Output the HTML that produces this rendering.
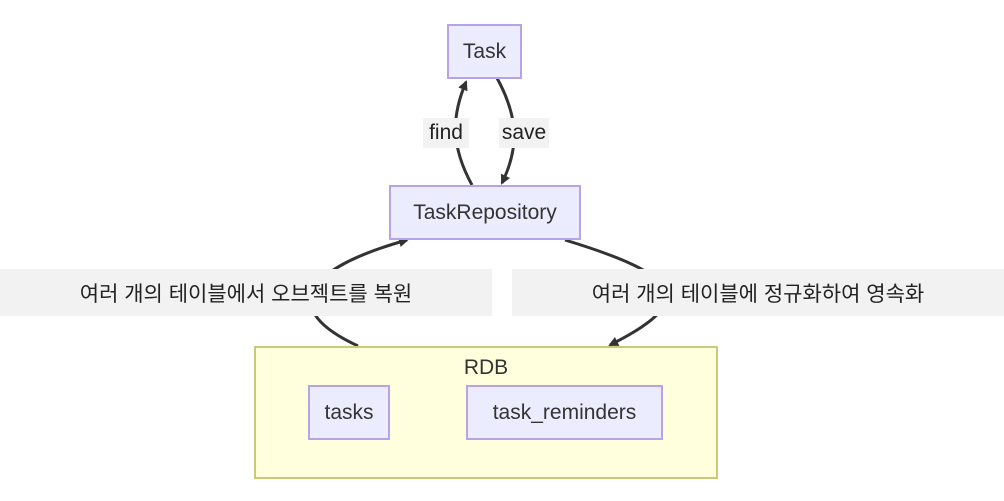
<!DOCTYPE html>
<html><head><meta charset="utf-8"><style>
body{margin:0;width:1004px;height:501px;background:#fff;overflow:hidden;position:relative;font-family:"Liberation Sans","Noto Sans CJK KR",sans-serif;}
.n{position:absolute;box-sizing:border-box;background:#ececff;border:2px solid #b7a4e8;display:flex;align-items:center;justify-content:center;font-size:21px;color:#333;}
.l{position:absolute;background:#f2f2f2;display:flex;align-items:center;justify-content:center;font-size:21px;color:#222;}
</style></head><body>
<svg width="1004" height="501" style="position:absolute;left:0;top:0">
<defs><marker id="a" markerWidth="10" markerHeight="10" refX="8" refY="5" orient="auto" markerUnits="userSpaceOnUse" viewBox="0 0 10 10"><path d="M0,0L10,5L0,10z" fill="#333"/></marker></defs>
<g fill="none" stroke="#333" stroke-width="3">
<path d="M472,185 C450,145 452,115 466,82" marker-end="url(#a)"/>
<path d="M497,78 C520,120 518,150 502,183" marker-end="url(#a)"/>
<path d="M358,346 C280,310 300,270 407,240" marker-end="url(#a)"/>
<path d="M565,240 C680,275 700,300 610,345" marker-end="url(#a)"/>
</g>
</svg>
<div class="n" style="left:447px;top:24px;width:75px;height:55px">Task</div>
<div class="l" style="left:423px;top:118px;width:46px;height:30px">find</div>
<div class="l" style="left:499px;top:118px;width:50px;height:30px">save</div>
<div class="n" style="left:389px;top:185px;width:192px;height:55px">TaskRepository</div>
<div class="l" style="left:0;top:269px;width:492px;height:47px">여러 개의 테이블에서 오브젝트를 복원</div>
<div class="l" style="left:512px;top:269px;width:492px;height:47px">여러 개의 테이블에 정규화하여 영속화</div>
<div style="position:absolute;left:254px;top:346px;width:464px;height:133px;box-sizing:border-box;background:#ffffde;border:2px solid #c9c97a;"></div>
<div style="position:absolute;left:254px;top:356px;width:464px;text-align:center;font-size:21px;color:#333">RDB</div>
<div class="n" style="left:308px;top:385px;width:82px;height:55px">tasks</div>
<div class="n" style="left:466px;top:385px;width:197px;height:55px">task_reminders</div>
</body></html>
